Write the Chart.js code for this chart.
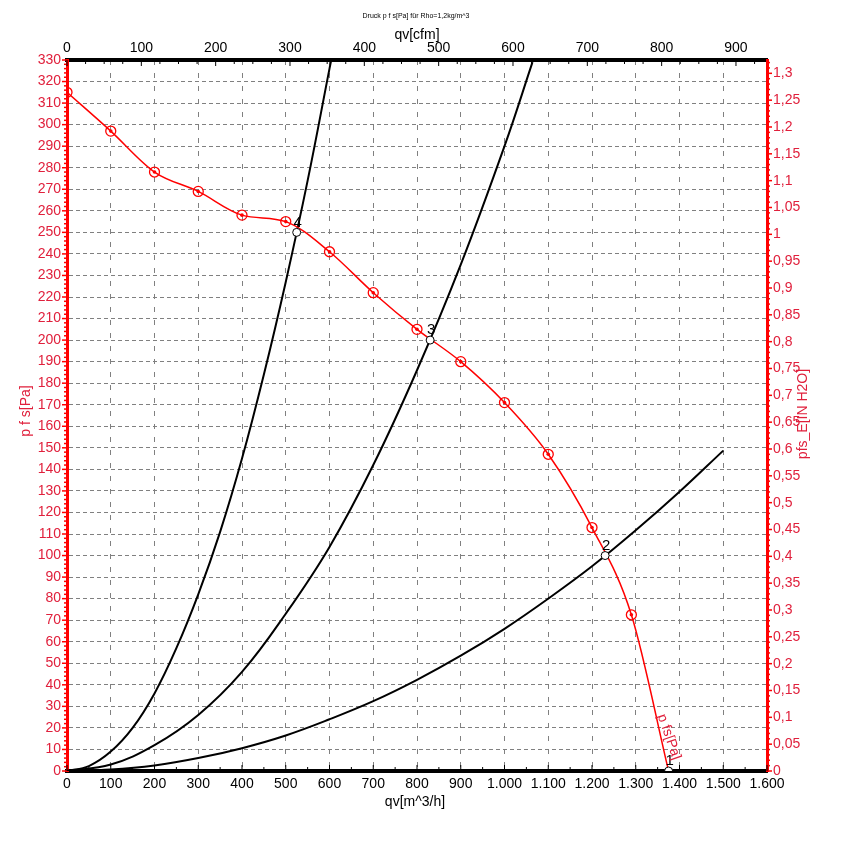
<!DOCTYPE html>
<html>
<head>
<meta charset="utf-8">
<script src="https://cdn.jsdelivr.net/npm/chart.js@4.4.1/dist/chart.umd.min.js"></script>
<style>
    html, body { margin: 0; padding: 0; background: #fff; }
    #wrap { width: 842px; height: 842px; }
</style>
</head>
<body>
<div id="wrap"><canvas id="fan-chart" width="842" height="842"></canvas></div>
<script>
// 风机特性曲线 p fs [Pa] 对 qv [m^3/h]
const pfsQ  = [0, 100, 200, 300, 400, 500, 600, 700, 800, 900, 1000, 1100, 1200, 1290];
const pfsPa = [315, 297, 278, 269, 258, 255, 241, 222, 205, 190, 171, 147, 113, 72.5];
const pfsEndQ = 1375;
const pfsEndPa = 0;

// 工作点
const opLabels = ['1', '2', '3', '4'];
const opQ  = [1375, 1230, 830, 525];
const opPa = [0, 100, 200, 250];

// 系统阻力曲线
const sysAQ  = [0, 50, 100, 150, 200, 250, 300, 350, 400, 450, 500, 550, 600, 604];
const sysAPa = [0, 2.3, 9, 20, 36, 57, 82, 111, 145, 184, 227, 274, 326, 330];
const sysBQ  = [0, 100, 200, 300, 400, 500, 600, 700, 800, 900, 1000, 1064];
const sysBPa = [0, 3, 12, 26, 46, 73, 104, 142, 186, 235, 290, 329];
const sysCQ  = [0, 100, 200, 300, 400, 500, 600, 700, 800, 900, 1000, 1100, 1200, 1300, 1400, 1500];
const sysCPa = [0, 0.7, 2.6, 6, 10.6, 16.5, 24, 32.4, 42.3, 53.5, 66, 80, 95, 111.7, 129.6, 148.7];

// 坐标轴
const qMax = 1600;          // m^3/h
const pMax = 330;           // Pa
const m3hPerCfm = 1.699;
const paPerInH2O = 249.089;

const RED = '#ff0000';
const LABEL_RED = '#e0203c';
const FONT = "'Liberation Sans Narrow', 'Liberation Sans', Arial, sans-serif";

function toXY(xs, ys) {
    return xs.map((x, i) => ({ x: x, y: ys[i] }));
}

function fmtThousands(v) {
    if (v >= 1000) {
        return Math.floor(v / 1000) + '.' + String(v % 1000).padStart(3, '0');
    }
    return String(v);
}

function fmtComma(v) {
    return String(parseFloat(v.toFixed(2))).replace('.', ',');
}

// 文字、次刻度
const decorPlugin = {
    id: 'decor',
    afterDraw(chart) {
        const ctx = chart.ctx;
        const sx = chart.scales.x;
        const sy = chart.scales.y;
        const sxt = chart.scales.xTop;
        const syr = chart.scales.yRight;
        const area = chart.chartArea;

        ctx.save();
        // 左轴刻度
        ctx.strokeStyle = RED;
        ctx.lineWidth = 1.5;
        for (let v = 0; v <= pMax; v += 2) {
            const y = sy.getPixelForValue(v);
            const len = v % 10 === 0 ? 5 : 3;
            ctx.beginPath();
            ctx.moveTo(area.left - len, y);
            ctx.lineTo(area.left, y);
            ctx.stroke();
        }
        // 右轴刻度
        for (let i = 0; i <= 132; i++) {
            const y = syr.getPixelForValue(i / 100);
            const len = i % 5 === 0 ? 5 : 3;
            ctx.beginPath();
            ctx.moveTo(area.right, y);
            ctx.lineTo(area.right + len, y);
            ctx.stroke();
        }
        // 下轴刻度
        ctx.strokeStyle = '#000';
        ctx.lineWidth = 1;
        for (let v = 0; v <= qMax; v += 50) {
            const x = sx.getPixelForValue(v);
            const len = v % 100 === 0 ? 6 : 4;
            ctx.beginPath();
            ctx.moveTo(x, area.bottom);
            ctx.lineTo(x, area.bottom - len);
            ctx.stroke();
        }
        // 上轴刻度
        for (let v = 0; v <= qMax / m3hPerCfm; v += 25) {
            const x = sxt.getPixelForValue(v);
            const len = v % 100 === 0 ? 6 : 4;
            ctx.beginPath();
            ctx.moveTo(x, area.top);
            ctx.lineTo(x, area.top + len);
            ctx.stroke();
        }

        // 标题
        ctx.fillStyle = '#000';
        ctx.textAlign = 'center';
        ctx.textBaseline = 'middle';
        ctx.font = '7px ' + FONT;
        ctx.fillText('Druck p f s[Pa] für Rho=1,2kg/m^3', 416, 16);
        ctx.font = '14px ' + FONT;
        ctx.fillText('qv[cfm]', 417, 35);
        ctx.fillText('qv[m^3/h]', 415, 802);

        // 工作点编号
        ctx.font = '15px ' + FONT;
        opLabels.forEach((t, i) => {
            const x = sx.getPixelForValue(opQ[i]);
            const y = sy.getPixelForValue(opPa[i]);
            ctx.fillText(t, x + 1, y - 10);
        });

        // 纵轴标题
        ctx.font = '14px ' + FONT;
        ctx.fillStyle = LABEL_RED;
        ctx.save();
        ctx.translate(26, 411);
        ctx.rotate(-Math.PI / 2);
        ctx.fillText('p f s[Pa]', 0, 0);
        ctx.restore();
        ctx.save();
        ctx.translate(803, 414);
        ctx.rotate(-Math.PI / 2);
        ctx.fillText('pfs_E[IN H2O]', 0, 0);
        ctx.restore();

        // 曲线标签
        ctx.save();
        ctx.translate(669, 737);
        ctx.rotate(71 * Math.PI / 180);
        ctx.fillText('p fs[Pa]', 0, 0);
        ctx.restore();

        ctx.restore();
    }
};

const ctx = document.getElementById('fan-chart');
const fanChart = new Chart(ctx, {
    type: 'scatter',
    data: {
        datasets: [
            {
                // 工作点
                data: toXY(opQ, opPa),
                showLine: false,
                pointRadius: 4,
                pointBorderWidth: 1,
                pointBorderColor: '#000',
                pointBackgroundColor: '#fff'
            },
            {
                // 测点中心
                data: toXY(pfsQ, pfsPa),
                showLine: false,
                pointRadius: 1.8,
                pointBorderWidth: 0,
                pointBackgroundColor: RED
            },
            {
                // 测点圆圈
                data: toXY(pfsQ, pfsPa),
                showLine: false,
                pointRadius: 5,
                pointBorderWidth: 1.3,
                pointBorderColor: RED,
                pointBackgroundColor: 'rgba(255,255,255,0)'
            },
            {
                // 特性曲线
                data: toXY(pfsQ.concat([pfsEndQ]), pfsPa.concat([pfsEndPa])),
                showLine: true,
                borderColor: RED,
                borderWidth: 1.5,
                pointRadius: 0,
                cubicInterpolationMode: 'monotone'
            },
            {
                data: toXY(sysAQ, sysAPa),
                showLine: true,
                borderColor: '#000',
                borderWidth: 2,
                pointRadius: 0,
                tension: 0.4
            },
            {
                data: toXY(sysBQ, sysBPa),
                showLine: true,
                borderColor: '#000',
                borderWidth: 2,
                pointRadius: 0,
                tension: 0.4
            },
            {
                data: toXY(sysCQ, sysCPa),
                showLine: true,
                borderColor: '#000',
                borderWidth: 2,
                pointRadius: 0,
                tension: 0.4
            }
        ]
    },
    options: {
        responsive: false,
        animation: false,
        layout: { padding: 0 },
        plugins: {
            legend: { display: false },
            tooltip: { enabled: false }
        },
        scales: {
            x: {
                type: 'linear',
                position: 'bottom',
                min: 0,
                max: qMax,
                afterFit(s) { s.height = 71; },
                ticks: {
                    stepSize: 100,
                    padding: 5,
                    color: '#000',
                    font: { family: FONT, size: 14 },
                    maxRotation: 0,
                    autoSkip: false,
                    callback: v => fmtThousands(v)
                },
                grid: {
                    color: '#808080',
                    lineWidth: 1,
                    drawTicks: false
                },
                border: { color: '#000', width: 4, dash: [5, 8] }
            },
            xTop: {
                type: 'linear',
                position: 'top',
                display: true,
                min: 0,
                max: qMax / m3hPerCfm,
                afterFit(s) { s.height = 60; },
                ticks: {
                    stepSize: 100,
                    includeBounds: false,
                    padding: 3,
                    color: '#000',
                    font: { family: FONT, size: 14 },
                    maxRotation: 0,
                    autoSkip: false
                },
                grid: { drawOnChartArea: false, drawTicks: false },
                border: { color: '#000', width: 4 }
            },
            y: {
                type: 'linear',
                position: 'left',
                min: 0,
                max: pMax,
                afterFit(s) { s.width = 67; },
                ticks: {
                    stepSize: 10,
                    padding: 6,
                    color: LABEL_RED,
                    font: { family: FONT, size: 14 },
                    autoSkip: false
                },
                grid: {
                    color: '#808080',
                    lineWidth: 1,
                    drawTicks: false
                },
                border: { color: RED, width: 3, dash: [4, 3] }
            },
            yRight: {
                type: 'linear',
                position: 'right',
                display: true,
                min: 0,
                max: pMax / paPerInH2O,
                afterFit(s) { s.width = 75; },
                ticks: {
                    stepSize: 0.05,
                    includeBounds: false,
                    padding: 6,
                    color: LABEL_RED,
                    font: { family: FONT, size: 14 },
                    autoSkip: false,
                    callback: v => fmtComma(v)
                },
                grid: { drawOnChartArea: false, drawTicks: false },
                border: { color: RED, width: 3 }
            }
        }
    },
    plugins: [decorPlugin]
});
</script>
</body>
</html>
